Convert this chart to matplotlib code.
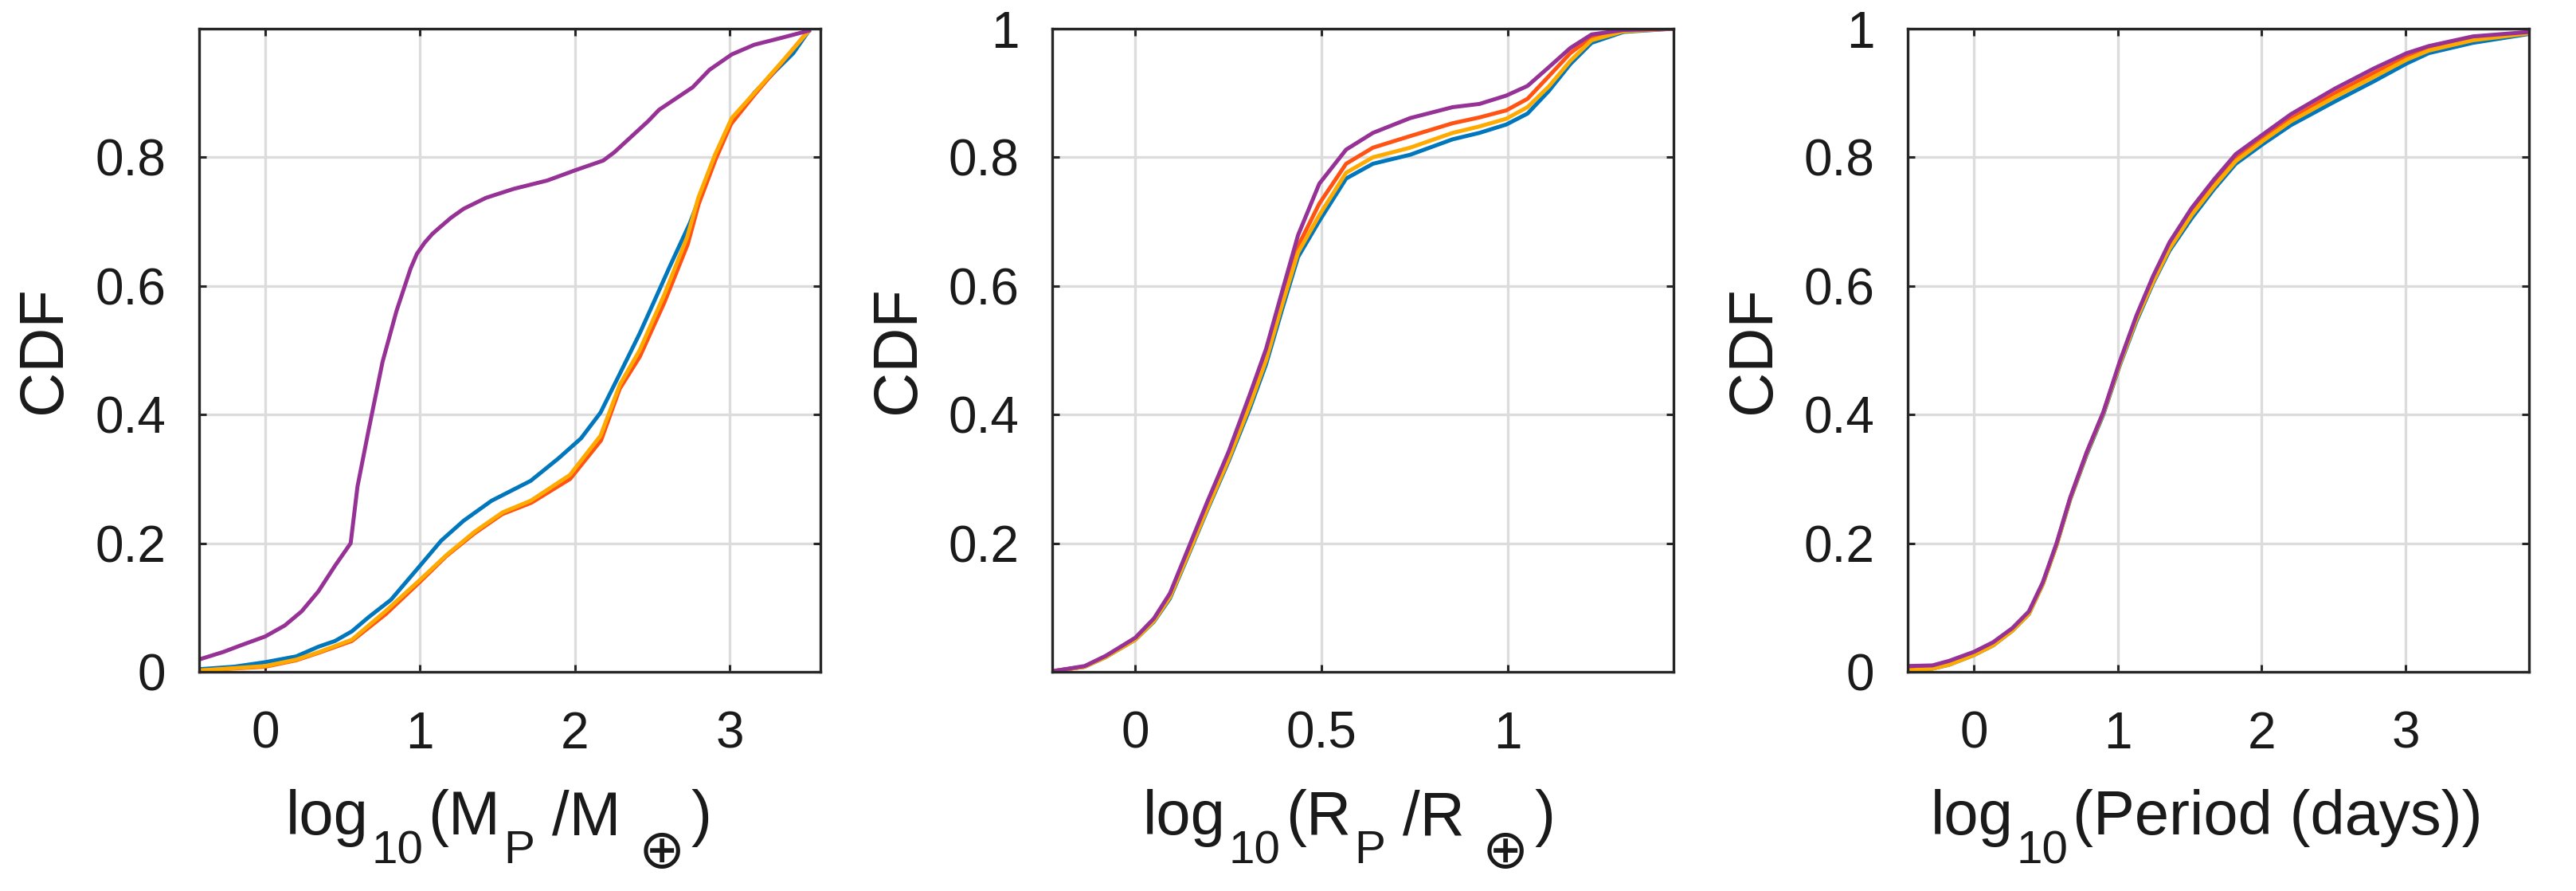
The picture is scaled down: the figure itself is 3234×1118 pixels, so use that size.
import matplotlib
matplotlib.use('Agg')
import matplotlib.pyplot as plt

plt.rcParams['font.family'] = ['Liberation Sans', 'DejaVu Sans']

W, H = 3234, 1118

# series colours (MATLAB-ish order: blue, red, yellow, purple)
colors = ['#0076BD', '#FF5314', '#FFAA00', '#963296']

# ---- panel 1: planet mass ----
mass_x_blue = [-0.43, -0.2, 0, 0.2, 0.343, 0.451, 0.56, 0.668, 0.812, 1.0, 1.137, 1.282, 1.462,
               1.715, 1.895, 2.04, 2.166, 2.292, 2.419, 2.509, 2.617, 2.744, 2.834, 2.942,
               3.014, 3.159, 3.303, 3.412, 3.513]
mass_y_blue = [0.004, 0.008, 0.015, 0.024, 0.039, 0.048, 0.063, 0.085, 0.112, 0.165, 0.204, 0.235,
               0.266, 0.297, 0.332, 0.363, 0.403, 0.464, 0.526, 0.574, 0.632, 0.698, 0.755, 0.821,
               0.856, 0.9, 0.936, 0.962, 0.997]
mass_x_red = [-0.43, 0, 0.2, 0.35, 0.56, 0.78, 1.0, 1.17, 1.35, 1.53, 1.72, 1.97, 2.17, 2.29,
              2.42, 2.58, 2.73, 2.8, 2.91, 3.01, 3.16, 3.34, 3.51]
mass_y_red = [0.002, 0.008, 0.018, 0.03, 0.048, 0.09, 0.14, 0.18, 0.215, 0.245, 0.263, 0.3, 0.36,
              0.44, 0.49, 0.575, 0.665, 0.727, 0.797, 0.852, 0.897, 0.948, 0.997]
mass_x_yellow = [-0.43, 0, 0.2, 0.35, 0.56, 0.776, 1.0, 1.173, 1.354, 1.534, 1.715, 1.968, 2.166,
                 2.292, 2.419, 2.581, 2.726, 2.798, 2.906, 3.014, 3.16, 3.34, 3.513]
mass_y_yellow = [0.002, 0.009, 0.019, 0.031, 0.05, 0.094, 0.143, 0.182, 0.218, 0.248, 0.266, 0.306,
                 0.367, 0.447, 0.5, 0.588, 0.676, 0.737, 0.804, 0.861, 0.9, 0.949, 0.997]
mass_x_purple = [-0.43, -0.27, -0.16, 0, 0.126, 0.235, 0.343, 0.451, 0.552, 0.596, 0.668, 0.758,
                 0.848, 0.939, 0.98, 1.029, 1.08, 1.137, 1.2, 1.282, 1.426, 1.606, 1.823, 2.004,
                 2.184, 2.256, 2.473, 2.545, 2.762, 2.87, 3.014, 3.159, 3.339, 3.513]
mass_y_purple = [0.019, 0.031, 0.041, 0.055, 0.072, 0.094, 0.125, 0.165, 0.2, 0.288, 0.376, 0.482,
                 0.561, 0.627, 0.65, 0.667, 0.681, 0.693, 0.706, 0.72, 0.737, 0.751, 0.764, 0.78,
                 0.795, 0.808, 0.856, 0.874, 0.909, 0.936, 0.96, 0.975, 0.986, 0.997]

# ---- panel 2: planet radius ----
rad_x = [-0.222, -0.136, -0.079, 0, 0.05, 0.093, 0.143, 0.193, 0.251, 0.308, 0.351, 0.394, 0.437,
         0.494, 0.566, 0.638, 0.738, 0.852, 0.924, 0.996, 1.053, 1.11, 1.168, 1.225, 1.311, 1.444]
rad_y_blue = [0.001, 0.008, 0.023, 0.05, 0.078, 0.114, 0.182, 0.251, 0.328, 0.41, 0.478, 0.563,
              0.645, 0.701, 0.767, 0.79, 0.804, 0.828, 0.838, 0.851, 0.868, 0.903, 0.945, 0.978,
              0.995, 1.0]
rad_y_red = [0.001, 0.008, 0.024, 0.052, 0.081, 0.119, 0.188, 0.258, 0.336, 0.421, 0.49, 0.577,
             0.662, 0.728, 0.79, 0.815, 0.833, 0.853, 0.862, 0.873, 0.891, 0.926, 0.962, 0.987,
             0.997, 1.0]
rad_y_yellow = [0.001, 0.008, 0.023, 0.05, 0.079, 0.116, 0.184, 0.253, 0.331, 0.415, 0.484, 0.57,
                0.652, 0.71, 0.776, 0.8, 0.815, 0.838, 0.848, 0.86, 0.878, 0.91, 0.95, 0.982,
                0.996, 1.0]
rad_y_purple = [0.001, 0.009, 0.025, 0.053, 0.083, 0.122, 0.193, 0.264, 0.343, 0.432, 0.502, 0.591,
                0.679, 0.759, 0.812, 0.838, 0.861, 0.878, 0.883, 0.896, 0.911, 0.94, 0.97, 0.991,
                0.998, 1.0]

# ---- panel 3: orbital period ----
per_x = [-0.46, -0.287, -0.172, 0, 0.134, 0.268, 0.383, 0.479, 0.575, 0.67, 0.785, 0.9, 1.015,
         1.13, 1.245, 1.36, 1.513, 1.667, 1.82, 2.011, 2.203, 2.51, 2.778, 3.008, 3.161, 3.467, 3.862]
per_y_blue = [0.002, 0.005, 0.011, 0.026, 0.041, 0.064, 0.09, 0.136, 0.197, 0.268, 0.338, 0.4,
              0.477, 0.545, 0.604, 0.655, 0.705, 0.75, 0.79, 0.821, 0.85, 0.887, 0.918, 0.946,
              0.962, 0.978, 0.992]
per_y_red = [0.003, 0.006, 0.013, 0.028, 0.043, 0.066, 0.092, 0.137, 0.198, 0.27, 0.341, 0.403,
             0.481, 0.551, 0.61, 0.662, 0.714, 0.758, 0.798, 0.829, 0.86, 0.9, 0.931, 0.956,
             0.968, 0.984, 0.994]
per_y_yellow = [0.002, 0.005, 0.011, 0.026, 0.041, 0.064, 0.09, 0.136, 0.197, 0.269, 0.34, 0.402,
                0.479, 0.548, 0.606, 0.658, 0.71, 0.754, 0.794, 0.826, 0.856, 0.894, 0.925, 0.952,
                0.966, 0.982, 0.993]
per_y_purple = [0.009, 0.01, 0.017, 0.031, 0.046, 0.068, 0.094, 0.139, 0.2, 0.271, 0.342, 0.404,
                0.483, 0.554, 0.615, 0.668, 0.721, 0.765, 0.805, 0.836, 0.867, 0.907, 0.938, 0.962,
                0.973, 0.988, 0.995]

# x labels, split into pieces: (text, kind, gap before in px)
xlabel_pieces = [
    [('log', 'main', 0), ('10', 'sub', 4), ('(M', 'main', 6), ('P', 'sub', 4),
     ('/M', 'main', 22), ('\u2295', 'sym', 22), (')', 'main', 8)],
    [('log', 'main', 0), ('10', 'sub', 4), ('(R', 'main', 6), ('P', 'sub', 4),
     ('/R', 'main', 22), ('\u2295', 'sym', 22), (')', 'main', 8)],
    [('log', 'main', 0), ('10', 'sub', 4), ('(Period (days))', 'main', 6)],
]
xlabel_centers = [626, 1694, 2770]

fig = plt.figure(figsize=(W / 100, H / 100), dpi=100)
lefts = [250, 1321, 2395]
axes = [fig.add_axes([l / W, 1 - 843 / H, 780 / W, 807 / H]) for l in lefts]

ax1, ax2, ax3 = axes
lw = 3.6
ax1.plot(mass_x_blue, mass_y_blue, color=colors[0], lw=lw)
ax1.plot(mass_x_red, mass_y_red, color=colors[1], lw=lw)
ax1.plot(mass_x_yellow, mass_y_yellow, color=colors[2], lw=lw)
ax1.plot(mass_x_purple, mass_y_purple, color=colors[3], lw=lw)

for ys, c in zip([rad_y_blue, rad_y_red, rad_y_yellow, rad_y_purple], colors):
    ax2.plot(rad_x, ys, color=c, lw=lw)
for ys, c in zip([per_y_blue, per_y_red, per_y_yellow, per_y_purple], colors):
    ax3.plot(per_x, ys, color=c, lw=lw)

ax1.set_xlim(-0.427, 3.587)
ax1.set_xticks([0, 1, 2, 3])
ax1.set_ylim(0, 1)
ax1.set_yticks([0, 0.2, 0.4, 0.6, 0.8])
ax1.set_yticklabels(['0', '0.2', '0.4', '0.6', '0.8'])

ax2.set_xlim(-0.223, 1.445)
ax2.set_xticks([0, 0.5, 1])
ax2.set_xticklabels(['0', '0.5', '1'])
ax2.set_ylim(0, 1)
ax2.set_yticks([0.2, 0.4, 0.6, 0.8, 1])
ax2.set_yticklabels(['0.2', '0.4', '0.6', '0.8', '1'])

ax3.set_xlim(-0.459, 3.857)
ax3.set_xticks([0, 1, 2, 3])
ax3.set_ylim(0, 1)
ax3.set_yticks([0, 0.2, 0.4, 0.6, 0.8, 1])
ax3.set_yticklabels(['0', '0.2', '0.4', '0.6', '0.8', '1'])

txt_color = '#1a1a1a'
for ax in axes:
    ax.grid(True, color='#dcdcdc', linewidth=2.4)
    ax.set_axisbelow(True)
    for s in ax.spines.values():
        s.set_linewidth(2.4)
        s.set_color('#262626')
    ax.tick_params(direction='in', top=True, right=True, length=6.5, width=2.2,
                   labelsize=46, color='#262626', labelcolor=txt_color)
    ax.tick_params(axis='x', pad=35)
    ax.tick_params(axis='y', pad=30)
    ax.set_ylabel('CDF', fontsize=56, color=txt_color)
    ax.yaxis.label.set_va('center')
    ax.yaxis.set_label_coords(-194 / 780, 0.5)

# composed x labels (MATLAB-style big subscripts)
renderer = fig.canvas.get_renderer()
styles = {'main': (56, ['Liberation Sans', 'DejaVu Sans'], 0),
          'sub': (42, ['Liberation Sans', 'DejaVu Sans'], 36),
          'sym': (50, ['DejaVu Sans'], 42)}
base_y = 1047
for pieces, cx in zip(xlabel_pieces, xlabel_centers):
    made = []
    for s, kind, gap in pieces:
        size, fam, drop = styles[kind]
        t = fig.text(0, 0, s, fontsize=size, family=fam, color=txt_color,
                     ha='left', va='baseline')
        w = t.get_window_extent(renderer).width
        made.append((t, gap, w, drop))
    total = sum(g + w for _, g, w, _ in made)
    x = cx - total / 2
    for t, gap, w, drop in made:
        x += gap
        t.set_position((x / W, 1 - (base_y + drop) / H))
        x += w

fig.savefig('out.png', dpi=100)
